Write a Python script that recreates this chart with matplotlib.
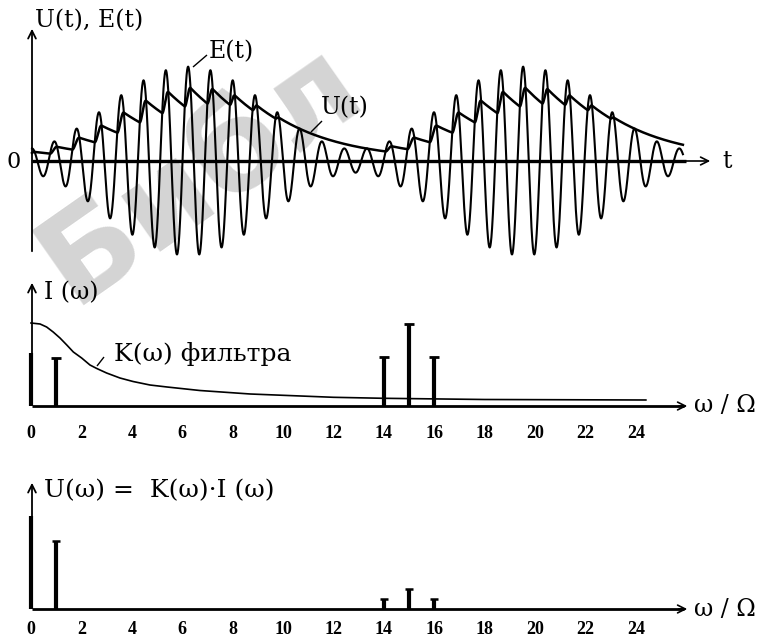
import numpy as np
import matplotlib
matplotlib.use("Agg")
import matplotlib.pyplot as plt
from matplotlib.transforms import Affine2D
from matplotlib.patches import FancyArrowPatch
from matplotlib.lines import Line2D

# ---------------- data ----------------
# time-domain signal parameters (t in modulation periods)
carrier_harmonic = 15          # carrier frequency / modulation frequency
mod_depth = 0.78               # modulation depth of E(t)
t_peak = 0.466                 # time of first envelope maximum
t_end = 1.943                  # end of drawn signal
U_start = 0.15                 # detector output at t = 0
tau_charge = 0.014             # detector charge time constant
tau_discharge = 0.21           # detector discharge time constant

# spectrum of the diode current I(omega)
I_freq = [0, 1, 14, 15, 16]
I_amp = [0.53, 0.48, 0.49, 0.82, 0.49]

# filter response K(omega)
K_freq = [0, 0.36, 0.62, 0.88, 1.15, 1.42, 1.68, 2.01, 2.34, 2.61, 3.0, 3.53,
          4.05, 4.72, 5.4, 6.7, 8.7, 10.7, 12, 14, 18, 24.4]
K_val = [0.83, 0.82, 0.79, 0.74, 0.68, 0.61, 0.54, 0.48, 0.41, 0.375, 0.33, 0.28,
         0.245, 0.21, 0.19, 0.155, 0.12, 0.10, 0.087, 0.077, 0.065, 0.06]

# output spectrum U(omega) = K(omega) * I(omega)
U_freq = [0, 1, 14, 15, 16]
U_amp = [0.93, 0.68, 0.10, 0.20, 0.10]

tick_vals = [0, 2, 4, 6, 8, 10, 12, 14, 16, 18, 20, 22, 24]

# ---------------- figure ----------------
W, H = 762, 637
fig = plt.figure(figsize=(W / 100, H / 100), dpi=100)
PX = Affine2D().scale(1 / W, -1 / H).translate(0, 1) + fig.transFigure

SERIF = ["DejaVu Serif"]
TICKF = ["Liberation Serif", "DejaVu Serif"]

# watermark (behind everything)
fig.text(72, 305, "Библ", transform=PX, fontsize=90, rotation=35,
         color="#d4d4d4", family="DejaVu Sans", weight="bold", ha="left",
         va="baseline", rotation_mode="anchor", zorder=-10)


def band_axes(y_top, y_bot, x0, xs, y0, ys):
    ax = fig.add_axes([0, 1 - y_bot / H, 1, (y_bot - y_top) / H])
    ax.set_xlim(-x0 / xs, (W - x0) / xs)
    ax.set_ylim((y0 - y_bot) / ys, (y0 - y_top) / ys)
    ax.axis("off")
    ax.patch.set_alpha(0)
    return ax


def line(x0, y0, x1, y1, lw=1.2):
    fig.add_artist(Line2D([x0, x1], [y0, y1], transform=PX, color="black", lw=lw,
                          solid_capstyle="butt", zorder=5))


def arrow(x0, y0, x1, y1, lw=1.2, ms=14):
    fig.add_artist(FancyArrowPatch((x0, y0), (x1, y1), transform=PX,
                                   arrowstyle="->", mutation_scale=ms,
                                   color="black", lw=lw, zorder=5))


def txt(x, y, s, size=17, weight="normal", ha="left", family=SERIF):
    fig.text(x, y, s, transform=PX, fontsize=size, family=family, weight=weight,
             ha=ha, va="center", color="black", zorder=6)


# ---------- top panel: E(t) and U(t) ----------
ax1 = band_axes(0, 262, 32, 335, 161, 53)
t = np.linspace(0, t_end, 8000)
env = 1 + mod_depth * np.cos(2 * np.pi * (t - t_peak))
E = env * np.cos(2 * np.pi * carrier_harmonic * (t - t_peak))
U = np.empty_like(t)
U[0] = U_start
dt = t[1] - t[0]
for i in range(1, len(t)):
    u = U[i - 1]
    if E[i] > u:
        u += (E[i] - u) * dt / tau_charge
    u -= u * dt / tau_discharge
    U[i] = u
ax1.plot(t, E, color="black", lw=1.5, zorder=3)
ax1.plot(t, U, color="black", lw=1.8, zorder=4)

line(32, 161, 686, 161, lw=2.4)
arrow(680, 161, 713, 161, lw=1.2)
arrow(32, 254, 32, 26, lw=1.3)
txt(7, 162, "0", size=16)
txt(722, 162, "t", size=17)
txt(35, 21, "U(t), E(t)", size=17)
txt(209, 52, "E(t)", size=17)
line(193, 67, 207, 55, lw=1.0)
txt(321, 108, "U(t)", size=17)
line(311, 132, 322, 121, lw=1.0)

# ---------- middle panel: I(omega) and K(omega) ----------
ax2 = band_axes(265, 445, 31, 25.2, 406, 100)
ax2.vlines(I_freq, 0, I_amp, color="black", lw=3.0, zorder=4)
ax2.plot(I_freq[1:], I_amp[1:], linestyle="none", marker="_", ms=7, mew=2,
         color="black", zorder=4)
ax2.plot(K_freq, K_val, color="black", lw=1.2, zorder=3)
line(32, 406, 684, 406, lw=2.0)
arrow(676, 406, 690, 406, lw=1.2)
arrow(32, 407, 32, 280, lw=1.3)
txt(44, 293, "I (ω)", size=17)
txt(114, 354, "K(ω) фильтра", size=18)
line(97, 366, 104, 357, lw=1.0)
txt(694, 406, "ω / Ω", size=17)
for v in tick_vals:
    x = 31 + 25.2 * v
    txt(x, 433, str(v), size=13, weight="bold", ha="center", family=TICKF)

# ---------- bottom panel: U(omega) ----------
ax3 = band_axes(460, 637, 31, 25.2, 609, 100)
ax3.vlines(U_freq, 0, U_amp, color="black", lw=3.0, zorder=4)
ax3.plot(U_freq[1:], U_amp[1:], linestyle="none", marker="_", ms=6, mew=1.8,
         color="black", zorder=4)
line(32, 609, 684, 609, lw=2.0)
arrow(676, 609, 690, 609, lw=1.2)
arrow(32, 610, 32, 480, lw=1.3)
txt(44, 491, "U(ω) =  K(ω)·I (ω)", size=18)
txt(694, 609, "ω / Ω", size=17)
for v in tick_vals:
    x = 31 + 25.2 * v
    txt(x, 629, str(v), size=13, weight="bold", ha="center", family=TICKF)

fig.savefig("out.png", dpi=100)
